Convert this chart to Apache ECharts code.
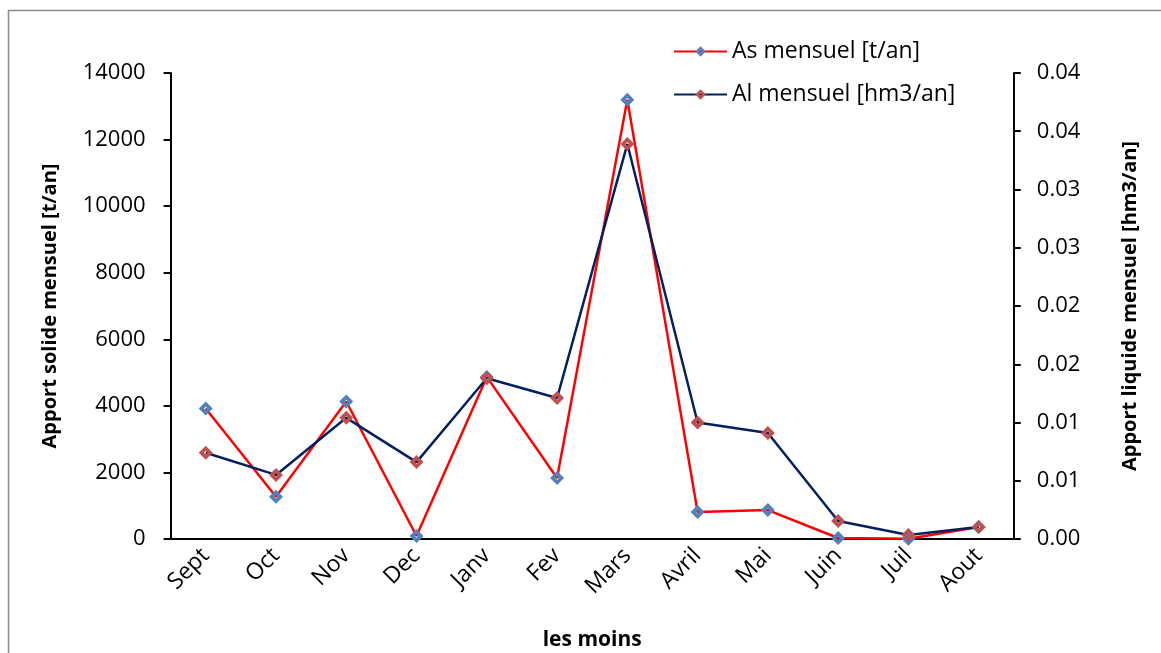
<!DOCTYPE html>
<html>
<head>
<meta charset="utf-8">
<script src="https://cdn.jsdelivr.net/npm/echarts@6/dist/echarts.min.js"></script>
<style>
html,body{margin:0;padding:0;background:#fff;}
#chart{width:1161px;height:653px;}
</style>
</head>
<body>
<div id="chart"></div>
<script>
var categories = ['Sept','Oct','Nov','Dec','Janv','Fev','Mars','Avril','Mai','Juin','Juil','Aout'];
var asMensuel = [3920, 1270, 4130, 90, 4870, 1830, 13200, 810, 870, 30, 10, 360];
var alMensuel = [0.0074, 0.0055, 0.0104, 0.0066, 0.0138, 0.0121, 0.0339, 0.0100, 0.0091, 0.00155, 0.00034, 0.00103];
var rightTickLabels = ['0.00','0.01','0.01','0.02','0.02','0.03','0.03','0.04','0.04'];

var FONT = 'Open Sans';
var diamond = 'path://M0,-10 L10,0 L0,10 L-10,0 Z M0,-2.6 L-2.6,0 L0,2.6 L2.6,0 Z';

var chart = echarts.init(document.getElementById('chart'));
chart.setOption({
  backgroundColor: '#fff',
  animation: false,
  graphic: [{
    type: 'rect',
    shape: {x: 8.5, y: 10.5, width: 1300, height: 800},
    style: {fill: 'none', stroke: '#8c8c8c', lineWidth: 1.5},
    silent: true
  }],
  grid: {left: 170.6, right: 147.2, top: 73, bottom: 114, containLabel: false, outerBoundsMode: 'none'},
  legend: {
    orient: 'vertical',
    left: 668,
    top: 35,
    itemWidth: 53,
    itemHeight: 13,
    itemGap: 20,
    textStyle: {fontFamily: FONT, fontSize: 23, color: '#000', padding: [0,0,0,0]},
    data: ['As mensuel [t/an]', 'Al mensuel [hm3/an]']
  },
  xAxis: {
    type: 'category',
    data: categories,
    boundaryGap: true,
    name: 'les moins',
    nameLocation: 'middle',
    nameGap: 91,
    nameTextStyle: {fontFamily: FONT, fontSize: 21, fontWeight: 'bold', color: '#000'},
    axisLine: {lineStyle: {color: '#000', width: 2}},
    axisTick: {alignWithLabel: true, length: 7, lineStyle: {color: '#000', width: 2}},
    axisLabel: {rotate: 45, fontFamily: FONT, fontSize: 23, color: '#000', margin: 13, interval: 0},
    splitLine: {show: false}
  },
  yAxis: [{
    type: 'value',
    min: 0, max: 14000, interval: 2000,
    name: 'Apport solide mensuel [t/an]',
    nameLocation: 'middle',
    nameGap: 110,
    nameTextStyle: {fontFamily: FONT, fontSize: 20, fontWeight: 'bold', color: '#000'},
    axisLine: {show: true, lineStyle: {color: '#000', width: 2}},
    axisTick: {show: true, length: 7, lineStyle: {color: '#000', width: 2}},
    axisLabel: {fontFamily: FONT, fontSize: 22, color: '#000', margin: 25,
      formatter: function (v) { return String(v); }},
    splitLine: {show: false}
  }, {
    type: 'value',
    min: 0, max: 0.04, interval: 0.005,
    position: 'right',
    name: 'Apport liquide mensuel [hm3/an]',
    nameLocation: 'middle',
    nameGap: 106,
    nameRotate: 90,
    nameTextStyle: {fontFamily: FONT, fontSize: 20, fontWeight: 'bold', color: '#000'},
    axisLine: {show: true, lineStyle: {color: '#000', width: 2}},
    axisTick: {show: true, length: 7, lineStyle: {color: '#000', width: 2}},
    axisLabel: {
      fontFamily: FONT, fontSize: 22, color: '#000', margin: 23,
      formatter: function (v) { return rightTickLabels[Math.round(v / 0.005)]; }
    },
    splitLine: {show: false}
  }],
  series: [{
    name: 'As mensuel [t/an]',
    type: 'line',
    yAxisIndex: 0,
    data: asMensuel,
    symbol: diamond,
    symbolSize: 14,
    showAllSymbol: true,
    lineStyle: {color: '#ff0000', width: 2.5},
    itemStyle: {color: '#4f81bd', borderWidth: 0}
  }, {
    name: 'Al mensuel [hm3/an]',
    type: 'line',
    yAxisIndex: 1,
    data: alMensuel,
    symbol: diamond,
    symbolSize: 14,
    showAllSymbol: true,
    lineStyle: {color: '#002060', width: 2.5},
    itemStyle: {color: '#c0504d', borderWidth: 0}
  }]
});
</script>
</body>
</html>
